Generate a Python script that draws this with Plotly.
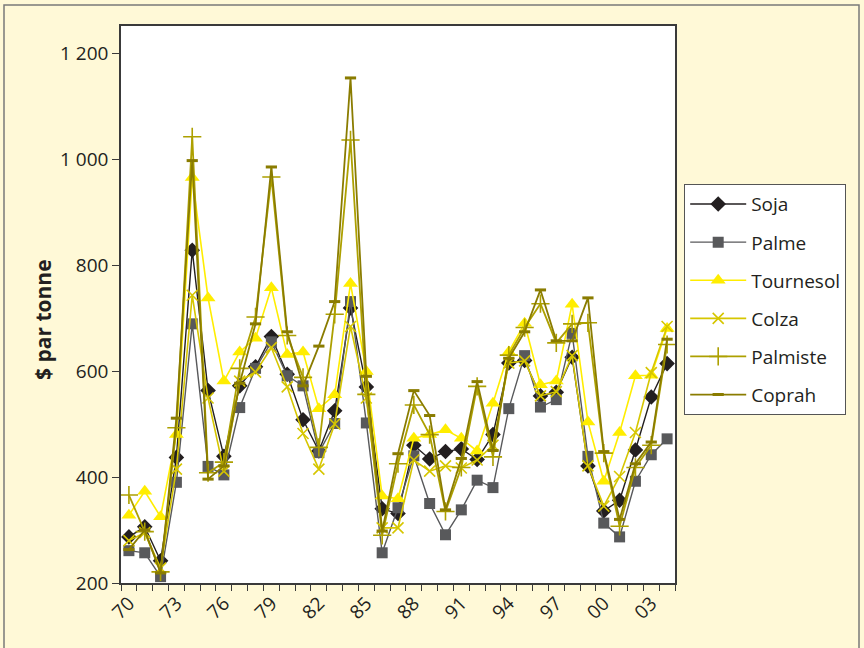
import plotly.graph_objects as go

# Annual prices of vegetable oils, $ per tonne, 1970-2004
years = list(range(1970, 2005))

soja = [287, 306, 242, 437, 828, 563, 439, 572, 608, 665, 594, 508, 449, 525, 719, 570,
        340, 331, 460, 434, 448, 453, 433, 480, 615, 620, 553, 560, 626, 421, 336, 356,
        451, 551, 614]
palme = [261, 257, 212, 390, 689, 420, 404, 531, 605, 655, 591, 572, 446, 501, 731, 502,
         257, 342, 440, 350, 291, 338, 394, 380, 529, 629, 532, 546, 671, 439, 313, 287,
         392, 442, 472]
tournesol = [328, 373, 325, 480, 965, 738, 581, 636, 662, 757, 631, 636, 529, 555, 765, 599,
             364, 359, 473, 480, 489, 473, 449, 539, 636, 690, 574, 581, 726, 504, 392, 484,
             591, 592, 680]
colza = [280, 295, 228, 415, 743, 549, 411, 581, 598, 644, 570, 482, 415, 500, 684, 549,
         304, 304, 432, 411, 421, 417, 432, 460, 615, 619, 553, 561, 629, 421, 345, 401,
         484, 597, 684]
palmiste = [366, 297, 221, 493, 1042, 408, 428, 605, 702, 966, 667, 588, 456, 707, 1036, 556,
            290, 425, 536, 480, 335, 418, 571, 438, 630, 682, 727, 653, 689, 691, 445, 307,
            418, 460, 650]
coprah = [263, 300, 219, 511, 997, 396, 421, 577, 689, 985, 674, 572, 647, 731, 1153, 590,
          298, 444, 563, 516, 338, 435, 580, 450, 624, 674, 753, 657, 657, 738, 448, 320,
          425, 466, 660]

tick_years = list(range(1970, 2005, 3))
tick_text = [f"{y % 100:02d}" for y in tick_years]

series = [
    ("Soja", soja, "#231F20", "diamond", 12, 1.4),
    ("Palme", palme, "#58595B", "square", 11, 1.4),
    ("Tournesol", tournesol, "#FFED00", "triangle-up", 13, 1.6),
    ("Colza", colza, "#D6C600", "x-thin-open", 11, 1.6),
    ("Palmiste", palmiste, "#ADA000", "cross-thin-open", 13, 1.8),
    ("Coprah", coprah, "#8A7C00", "line-ew-open", 8, 1.8),
]

fig = go.Figure()
for name, vals, color, symbol, size, lw in series:
    marker = dict(symbol=symbol, size=size, color=color)
    if symbol.endswith("-open"):
        marker["line"] = dict(color=color, width=3 if symbol.startswith("line") else 1.6)
    fig.add_trace(go.Scatter(
        x=years, y=vals, name=name, mode="lines+markers",
        line=dict(color=color, width=lw), marker=marker,
        legendgroup=name,
    ))

W, H = 864, 648
L, R, T, B = 121, 189, 26, 65
pw, ph = W - L - R, H - T - B


def px_x(v):
    return (v - L) / pw


def px_y(v):
    return (H - B - v) / ph


fig.update_layout(
    width=W, height=H,
    margin=dict(l=L, r=R, t=T, b=B),
    paper_bgcolor="#FFF9D7",
    plot_bgcolor="#FFFFFF",
    separators=", ",
    font=dict(family="Open Sans, Lato, sans-serif", size=19, color="#231F20"),
    showlegend=True,
    legend=dict(
        x=1.0166, y=0.716, xanchor="left", yanchor="top",
        bgcolor="#FFFFFF", bordercolor="#555555", borderwidth=1,
        font=dict(size=19, color="#231F20"),
        itemwidth=56, tracegroupgap=10.4,
    ),
    xaxis=dict(
        range=[1969.5, 2004.5],
        tickvals=tick_years, ticktext=tick_text, tickangle=-45,
        ticks="", showgrid=False, zeroline=False,
        showline=True, linecolor="#3A3A3A", linewidth=1.5, mirror=True,
        minor=dict(tick0=1969.5, dtick=1, ticks="outside", ticklen=6,
                   tickcolor="#3A3A3A", tickwidth=1, showgrid=False),
        tickfont=dict(size=19),
    ),
    yaxis=dict(
        range=[200, 1251],
        tickvals=[200, 400, 600, 800, 1000, 1200],
        tickformat=",d", separatethousands=True,
        ticks="outside", ticklen=7, tickcolor="#3A3A3A", tickwidth=1.2,
        showgrid=False, zeroline=False,
        showline=True, linecolor="#3A3A3A", linewidth=1.5, mirror=True,
        tickfont=dict(size=19),
    ),
)

# Vertical axis title
fig.add_annotation(
    text="<b>$ par tonne</b>", textangle=-90,
    xref="paper", yref="paper", x=px_x(43), y=px_y(320),
    xanchor="center", yanchor="middle", showarrow=False,
    font=dict(size=21, color="#231F20"),
)

# Outer frame of the figure panel
fig.add_shape(type="rect", xref="paper", yref="paper",
              x0=px_x(4), x1=px_x(859), y0=px_y(652), y1=px_y(5),
              line=dict(color="#7A7A7A", width=1.5), fillcolor="rgba(0,0,0,0)",
              layer="below")

fig.write_html("out.html")
